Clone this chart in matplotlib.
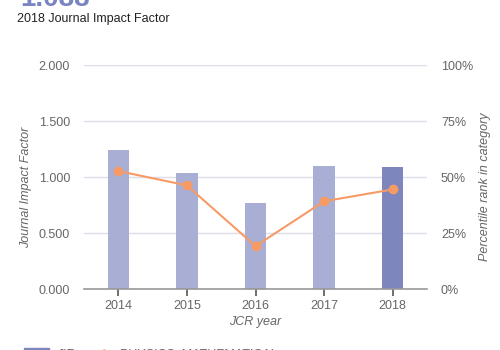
import matplotlib.pyplot as plt
from matplotlib.ticker import FuncFormatter

plt.rcParams['font.family'] = ['Liberation Sans', 'DejaVu Sans']

# data
years = ['2014', '2015', '2016', '2017', '2018']
jif = [1.241, 1.036, 0.768, 1.098, 1.088]
percentile = [52.7, 46.3, 19.2, 39.2, 44.5]

bar_light = '#a9aed5'
bar_dark = '#7d86bd'
orange = '#f79b66'
txt = '#666666'

fig = plt.figure(figsize=(5, 3.5), dpi=100)
ax = fig.add_axes([0.168, 0.174, 0.686, 0.640])

x = range(len(years))
colors = [bar_light] * (len(years) - 1) + [bar_dark]
ax.bar(x, jif, width=0.31, color=colors, zorder=2)
ax.set_xlim(-0.5, len(years) - 0.5)
ax.set_ylim(0, 2)
ax.set_yticks([0, 0.5, 1, 1.5, 2])
ax.yaxis.set_major_formatter(FuncFormatter(lambda v, p: f'{v:.3f}'))
ax.set_xticks(list(x))
ax.set_xticklabels(years)
ax.grid(axis='y', color='#dedee8', linewidth=1, zorder=0)
for s in ['top', 'left', 'right']:
    ax.spines[s].set_visible(False)
ax.spines['bottom'].set_color('#999999')
ax.spines['bottom'].set_linewidth(1.2)
ax.tick_params(axis='y', length=0, pad=10, labelsize=9, labelcolor=txt)
ax.tick_params(axis='x', length=5, width=1.2, color='#555555', labelsize=9,
               labelcolor=txt, pad=3)
ax.set_xlabel('JCR year', fontsize=9, style='italic', color=txt, labelpad=3)
ax.set_ylabel('Journal Impact Factor', fontsize=9, style='italic', color=txt,
              labelpad=5)
ax.yaxis.label.set_y(0.455)

ax2 = ax.twinx()
ax2.plot(list(x), percentile, color=orange, linewidth=1.5, marker='o',
         markersize=6, zorder=3)
ax2.set_ylim(0, 100)
ax2.set_yticks([0, 25, 50, 75, 100])
ax2.yaxis.set_major_formatter(FuncFormatter(lambda v, p: f'{v:.0f}%'))
for s in ['top', 'left', 'right', 'bottom']:
    ax2.spines[s].set_visible(False)
ax2.tick_params(axis='y', length=0, pad=10, labelsize=9, labelcolor=txt)
ax2.set_ylabel('Percentile rank in category', fontsize=9, style='italic',
               color=txt, labelpad=4)
ax2.yaxis.label.set_y(0.455)

# header (partly cut off at the top)
fig.text(0.04, 0.984, '1.088', fontsize=20, fontweight='bold', color='#7b84c2',
         va='baseline')
fig.text(0.034, 0.945, '2018 Journal Impact Factor', fontsize=9, color='#222222',
         va='center')

# legend (cut off at the bottom)
fig.patches.append(plt.Rectangle((0.048, -0.005), 0.05, 0.012,
                                 transform=fig.transFigure, color=bar_dark))
fig.text(0.116, -0.03, 'JIF', fontsize=9, color=txt, va='bottom')
fig.text(0.2, -0.02, '\u25cf', fontsize=8, color=orange, va='bottom')
fig.text(0.24, -0.03, 'PHYSICS, MATHEMATICAL', fontsize=9, color=txt,
         va='bottom')

fig.savefig('out.png', dpi=100)
